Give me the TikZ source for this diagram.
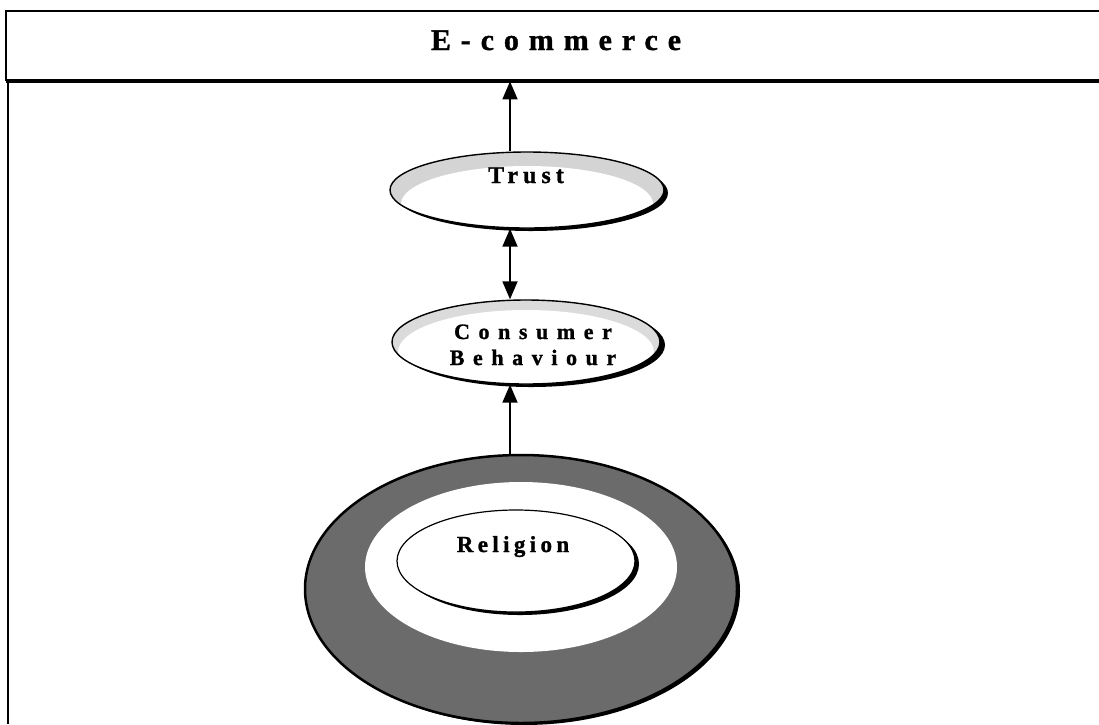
\documentclass[tikz,border=0pt]{standalone}
\usepackage{fontspec}
\setmainfont{Liberation Serif}
\newfontfamily\ecfont[LetterSpace=33,BoldFeatures={FakeBold=1.2}]{Liberation Serif}
\newfontfamily\trfont[LetterSpace=21,BoldFeatures={FakeBold=1.2}]{Liberation Serif}
\newfontfamily\cbfont[LetterSpace=39,BoldFeatures={FakeBold=1.2}]{Liberation Serif}
\newfontfamily\rlfont[LetterSpace=19,BoldFeatures={FakeBold=1.2}]{Liberation Serif}
\usetikzlibrary{shapes.geometric,arrows.meta}
\begin{document}
\begin{tikzpicture}[x=1pt,y=-1pt,
  lbl/.style={inner sep=0pt,anchor=base},
  oval/.style={ellipse,inner sep=0pt,draw=black,line width=1.4pt},
  arr/.style={line width=1.8pt,-{Triangle[length=18pt,width=15pt]}},
  darr/.style={line width=1.8pt,{Triangle[length=18pt,width=15pt]}-{Triangle[length=18pt,width=15pt]}}]
\useasboundingbox (0,0) rectangle (1099,724);

% header bar across the top
\draw[line width=2pt] (1110,11) -- (6,11) -- (6,81);
\draw[line width=3.5pt] (6,81) -- (1110,81);
\node[inner sep=0pt,minimum width=1104pt,minimum height=70pt,anchor=north west] (header) at (6,11) {};
\node[lbl,font=\ecfont\bfseries\fontsize{30}{30}\selectfont] (ecom) at (556,50) {E-commerce};
% left frame edge
\draw[line width=2pt] (8,81) -- (8,724);

\coordinate (ax) at (510,0);

% Trust
\fill[black] (531,193) ellipse [x radius=137, y radius=38];
\begin{scope}
  \clip (527,190) ellipse [x radius=137, y radius=38];
  \fill[black!17] (527,190) ellipse [x radius=137, y radius=38];
  \fill[white] (527,204) ellipse [x radius=126, y radius=38];
\end{scope}
\node[oval,minimum width=274pt,minimum height=76pt] (trust) at (527,190) {};
\node[lbl,font=\trfont\bfseries\fontsize{24}{24}\selectfont] (trusttxt) at (526,183) {Trust};

% Consumer Behaviour
\fill[black] (531,345) ellipse [x radius=134, y radius=42];
\begin{scope}
  \clip (526,342) ellipse [x radius=134, y radius=42];
  \fill[black!14] (526,342) ellipse [x radius=134, y radius=42];
  \fill[white] (526,352) ellipse [x radius=128, y radius=42];
\end{scope}
\node[oval,minimum width=268pt,minimum height=84pt] (cons) at (526,342) {};
\node[lbl,font=\cbfont\bfseries\fontsize{22}{26}\selectfont] (constxt) at (533,339) {Consumer};
\node[lbl,font=\cbfont\bfseries\fontsize{22}{26}\selectfont] (behtxt) at (533,365) {Behaviour};

% Religion: shaded ring with inner oval
\fill[black] (524,591) ellipse [x radius=216, y radius=134];
\node[oval,fill=black!58,minimum width=432pt,minimum height=268pt,line width=2.5pt] (ring) at (521,589) {};
\fill[white] (521,567) ellipse [x radius=156, y radius=85];
\fill[black] (520,564) ellipse [x radius=119, y radius=51];
\node[oval,fill=white,minimum width=238pt,minimum height=102pt,line width=1.2pt] (relig) at (516,561) {};
\node[lbl,font=\rlfont\bfseries\fontsize{23}{23}\selectfont] (religtxt) at (513,552) {Religion};

% connectors
\draw[arr] (trust.north -| ax) -- (header.south -| ax);
\draw[darr] (trust.south -| ax) -- (cons.north -| ax);
\draw[arr] (ring.north -| ax) -- (cons.south -| ax);
\end{tikzpicture}
\end{document}
